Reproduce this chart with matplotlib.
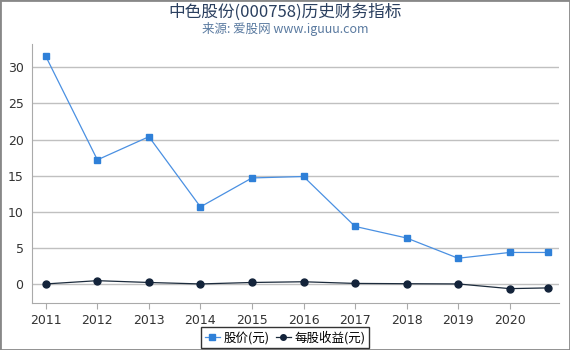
import matplotlib
matplotlib.use('Agg')
from matplotlib import pyplot as plt

plt.rcParams['font.family'] = ['DejaVu Sans', 'Noto Sans CJK SC']
cjk = ['Noto Sans CJK SC', 'DejaVu Sans']

years = [2011, 2012, 2013, 2014, 2015, 2016, 2017, 2018, 2019, 2020, 2020.75]
price = [31.5, 17.2, 20.4, 10.7, 14.7, 14.9, 8.0, 6.4, 3.6, 4.4, 4.4]
eps = [0.05, 0.5, 0.25, 0.05, 0.25, 0.35, 0.12, 0.08, 0.05, -0.6, -0.5]
tick_years = [2011, 2012, 2013, 2014, 2015, 2016, 2017, 2018, 2019, 2020]

fig = plt.figure(figsize=(5.7, 3.5), dpi=100)
ax = fig.add_axes([0.056, 0.134, 0.924, 0.74])

ax.plot(years, price, color='#4a90e2', lw=0.9, marker='s', ms=5,
        mfc='#2f80d8', mec='#2f80d8', label='股价(元)')
ax.plot(years, eps, color='#1c2b3c', lw=0.9, marker='o', ms=5,
        mfc='#13233a', mec='#13233a', label='每股收益(元)')

ax.set_xlim(2010.73, 2020.95)
ax.set_ylim(-2.6, 33.2)
ax.set_xticks(tick_years)
ax.set_yticks([0, 5, 10, 15, 20, 25, 30])
ax.grid(axis='y', color='#c0c0c0', lw=1)
ax.set_axisbelow(True)
for s in ['top', 'right']:
    ax.spines[s].set_visible(False)
for s in ['left', 'bottom']:
    ax.spines[s].set_color('#aaaaaa')
ax.tick_params(axis='y', length=0, labelsize=9, colors='#333333', pad=6)
ax.tick_params(axis='x', length=4, color='#aaaaaa', labelsize=9, colors='#333333')

fig.text(0.5, 0.965, '中色股份(000758)历史财务指标', ha='center', va='center',
         fontsize=12, color='#2a3f5f', family=cjk)
fig.text(0.5, 0.918, '来源: 爱股网 www.iguuu.com', ha='center', va='center',
         fontsize=9, color='#5a7aa0', family=cjk)

leg = fig.legend(loc='lower center', bbox_to_anchor=(0.5, -0.012), ncol=2,
                 prop={'family': cjk, 'size': 9}, frameon=True, fancybox=False,
                 handlelength=1.2, handletextpad=0.3, columnspacing=0.5,
                 borderpad=0.3, markerscale=0.8)
leg.get_frame().set_edgecolor('black')
leg.get_frame().set_linewidth(1)

fig.patches.append(plt.Rectangle((0, 0), 1, 1, transform=fig.transFigure,
                                 fill=False, edgecolor='#888888', lw=2))

fig.savefig('out.png', dpi=100)
